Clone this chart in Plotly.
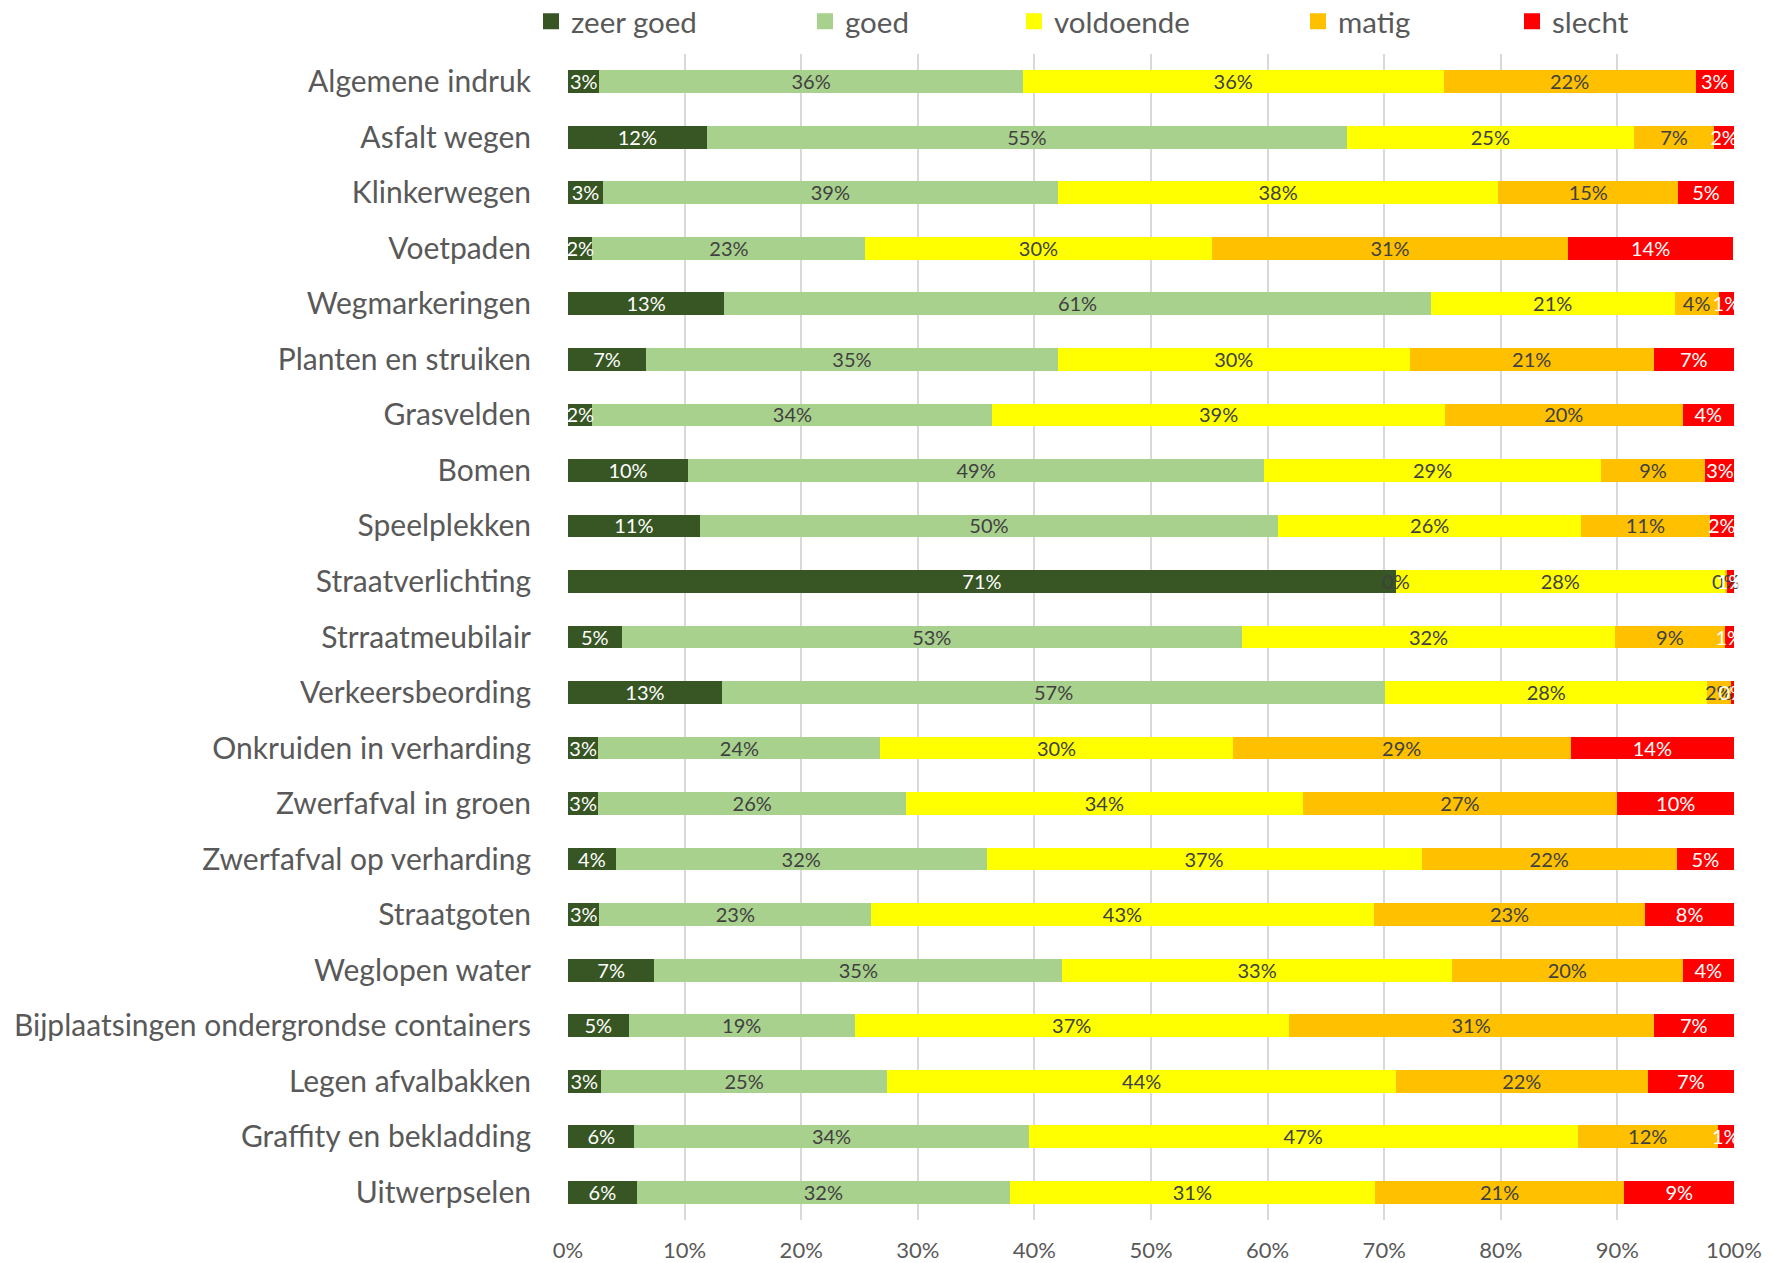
import plotly.graph_objects as go

categories = [
    "Algemene indruk", "Asfalt wegen", "Klinkerwegen", "Voetpaden", "Wegmarkeringen",
    "Planten en struiken", "Grasvelden", "Bomen", "Speelplekken", "Straatverlichting",
    "Strraatmeubilair", "Verkeersbeording", "Onkruiden in verharding", "Zwerfafval in groen",
    "Zwerfafval op verharding", "Straatgoten", "Weglopen water",
    "Bijplaatsingen ondergrondse containers", "Legen afvalbakken", "Graffity en bekladding",
    "Uitwerpselen",
]

zeer_goed = [2.7, 11.9, 3.0, 2.1, 13.4, 6.7, 2.1, 10.3, 11.3, 71.0, 4.6, 13.2, 2.6, 2.6, 4.1, 2.7, 7.4, 5.2, 2.8, 5.7, 5.9]
goed      = [36.3, 54.9, 39.0, 23.4, 60.6, 35.3, 34.3, 49.4, 49.6, 0.0, 53.2, 56.9, 24.2, 26.4, 31.8, 23.3, 35.0, 19.4, 24.6, 33.8, 32.0]
voldoende = [36.1, 24.6, 37.8, 29.7, 20.9, 30.2, 38.8, 28.9, 26.0, 28.2, 32.0, 27.6, 30.2, 34.0, 37.3, 43.1, 33.4, 37.2, 43.6, 47.1, 31.3]
matig     = [21.6, 6.9, 15.4, 30.6, 3.8, 20.9, 20.4, 8.9, 11.0, 0.2, 9.4, 2.0, 29.0, 27.0, 21.9, 23.3, 19.8, 31.3, 21.6, 12.0, 21.4]
slecht    = [3.3, 1.7, 4.8, 14.1, 1.3, 6.9, 4.4, 2.6, 2.1, 0.6, 0.8, 0.3, 14.0, 10.0, 4.9, 7.6, 4.4, 6.9, 7.4, 1.4, 9.4]

series_names = ["zeer goed", "goed", "voldoende", "matig", "slecht"]
series_values = [zeer_goed, goed, voldoende, matig, slecht]
colors = ["#375623", "#A9D18E", "#FFFF00", "#FFC000", "#FF0000"]
text_colors = ["#FFFFFF", "#404040", "#404040", "#404040", "#FFFFFF"]
tick_vals = [0, 10, 20, 30, 40, 50, 60, 70, 80, 90, 100]
tick_text = [f"{v}%" for v in tick_vals]

FONT = "Lato"
legend_ids = ["legend", "legend2", "legend3", "legend4", "legend5"]

fig = go.Figure()

# stacked bars
for name, vals, col in zip(series_names, series_values, colors):
    fig.add_trace(go.Bar(
        y=categories, x=vals, name=name, orientation="h",
        marker=dict(color=col, line=dict(width=0)),
        showlegend=False, hoverinfo="skip",
    ))

# data labels centred on each segment (Excel-like, allowed to overflow)
cum = [0.0] * len(categories)
for vals, tcol in zip(series_values, text_colors):
    mids = [c + v / 2 for c, v in zip(cum, vals)]
    cum = [c + v for c, v in zip(cum, vals)]
    fig.add_trace(go.Scatter(
        y=categories, x=mids, mode="text", yaxis="y2",
        text=[f"{round(v)}%" for v in vals],
        textposition="middle center",
        textfont=dict(family=FONT, size=20, color=tcol),
        cliponaxis=False, showlegend=False, hoverinfo="skip",
    ))

# legend entries
for name, col, lid in zip(series_names, colors, legend_ids):
    fig.add_trace(go.Scatter(
        x=[None], y=[None], mode="markers", name=name,
        marker=dict(symbol="square", size=17, color=col),
        legend=lid, showlegend=True, hoverinfo="skip",
    ))

W, H = 1773, 1263
L, R, T, B = 568, 38.5, 53.6, 43.4
legend_text_x = [571, 845, 1054, 1338, 1552]
legend_layout = {}
for lid, tx in zip(legend_ids, legend_text_x):
    legend_layout[lid] = dict(
        xref="container", yref="container",
        x=(tx - 40) / W, xanchor="left",
        y=1 - 21.5 / H, yanchor="middle",
        orientation="h", bgcolor="rgba(0,0,0,0)", itemsizing="trace",
        font=dict(family=FONT, size=29.5, color="#595959"),
    )

n = len(categories)
shift = 0.045  # small downward nudge of label text to centre it optically on the bars

fig.update_layout(
    width=W, height=H,
    margin=dict(l=L, r=R, t=T, b=B, autoexpand=False),
    barmode="stack", bargap=0.59,
    plot_bgcolor="white", paper_bgcolor="white",
    font=dict(family=FONT, color="#595959"),
    hovermode=False,
    xaxis=dict(
        range=[0, 100], tickvals=tick_vals, ticktext=tick_text,
        showgrid=True, gridcolor="#D9D9D9", gridwidth=1.5, zeroline=False,
        showline=False, ticks="", ticklabelstandoff=15,
        tickfont=dict(family=FONT, size=22, color="#595959"),
        fixedrange=True,
    ),
    yaxis=dict(
        categoryorder="array", categoryarray=categories,
        range=[n - 0.5, -0.5],
        showgrid=False, zeroline=False, showline=False, ticks="",
        ticklabelstandoff=36,
        tickfont=dict(family=FONT, size=30, color="#595959"),
        fixedrange=True,
    ),
    yaxis2=dict(
        overlaying="y", visible=False,
        categoryorder="array", categoryarray=categories,
        range=[n - 0.5 - shift, -0.5 - shift],
        fixedrange=True,
    ),
    **legend_layout,
)

fig.write_html("out.html", config={"displayModeBar": False},
               post_script="document.body.style.margin='0';")
